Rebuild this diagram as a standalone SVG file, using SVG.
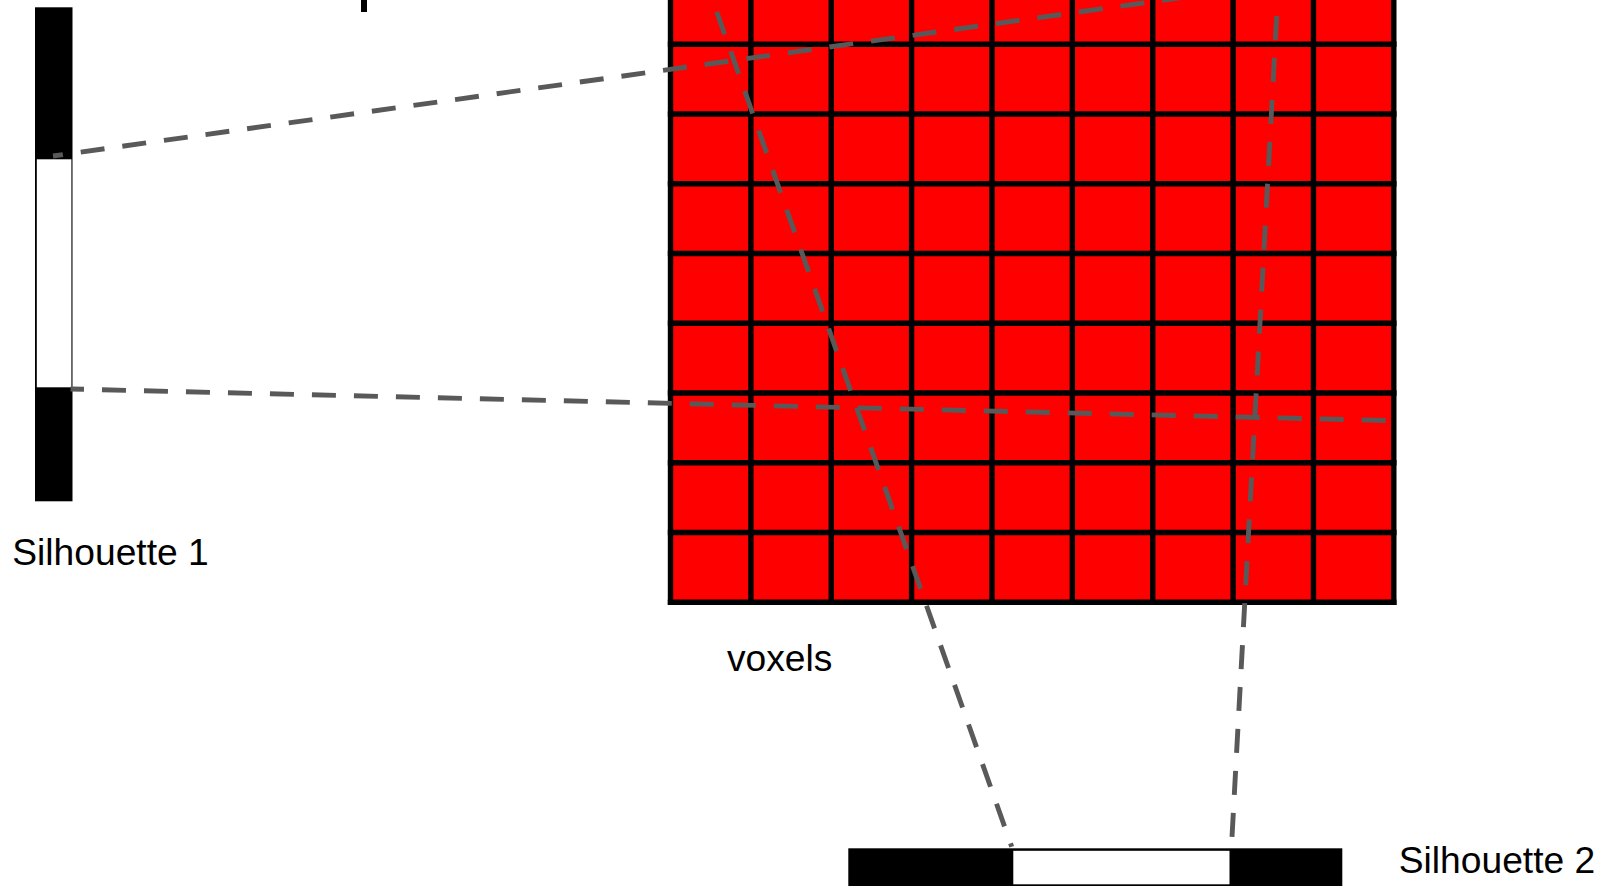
<svg xmlns="http://www.w3.org/2000/svg" width="1599" height="886" viewBox="0 0 1599 886">
  <style>
    .lbl { font-family: "Liberation Sans", Arial, sans-serif; font-size: 37.2px; fill: #000; }
    .blk { fill: #000; }
    .wht { fill: #fff; }
    .grid { stroke: #000; stroke-width: 5.4; fill: none; }
    .proj { stroke: #595959; stroke-width: 4.9; fill: none; stroke-dasharray: 24 18; }
  </style>
  <rect width="1599" height="886" fill="#fff"/>

  <g id="top-mark">
    <rect class="blk" x="361" y="-2" width="6" height="14"/>
  </g>

  <g id="silhouette1">
    <rect class="blk" x="35" y="7.3" width="37.5" height="494"/>
    <rect class="wht" x="36.8" y="159.3" width="34.6" height="228"/>
    <text class="lbl" x="12.3" y="565">Silhouette 1</text>
  </g>

  <g id="silhouette2">
    <rect class="blk" x="848.3" y="848.3" width="494" height="40"/>
    <rect class="wht" x="1013.3" y="850.8" width="216.2" height="33.5"/>
    <text class="lbl" x="1398.8" y="872.7">Silhouette 2</text>
  </g>

  <g id="voxels">
    <rect x="670.5" y="-25.55" width="723.3" height="627.75" fill="#ff0000"/>
    <path class="grid" d="M670.5,-30V604.9 M750.87,-30V604.9 M831.24,-30V604.9 M911.61,-30V604.9 M991.98,-30V604.9 M1072.35,-30V604.9 M1152.72,-30V604.9 M1233.09,-30V604.9 M1313.46,-30V604.9 M1393.8,-30V604.9"/>
    <path class="grid" d="M667.8,602.2H1396.5 M667.8,532.45H1396.5 M667.8,462.7H1396.5 M667.8,392.95H1396.5 M667.8,323.2H1396.5 M667.8,253.45H1396.5 M667.8,183.7H1396.5 M667.8,113.95H1396.5 M667.8,44.2H1396.5 M667.8,-25.55H1396.5"/>
    <text class="lbl" x="727" y="671">voxels</text>
  </g>

  <g id="connectors">
    <line class="proj" x1="53" y1="156" x2="1200" y2="-5" stroke-dashoffset="14"/>
    <line class="proj" x1="70.5" y1="389" x2="1395" y2="420.7" stroke-dashoffset="10.5"/>
    <line class="proj" x1="716.7" y1="11.7" x2="1011.7" y2="846.7"/>
    <line class="proj" x1="1276.7" y1="16" x2="1231.4" y2="848"/>
  </g>
</svg>
